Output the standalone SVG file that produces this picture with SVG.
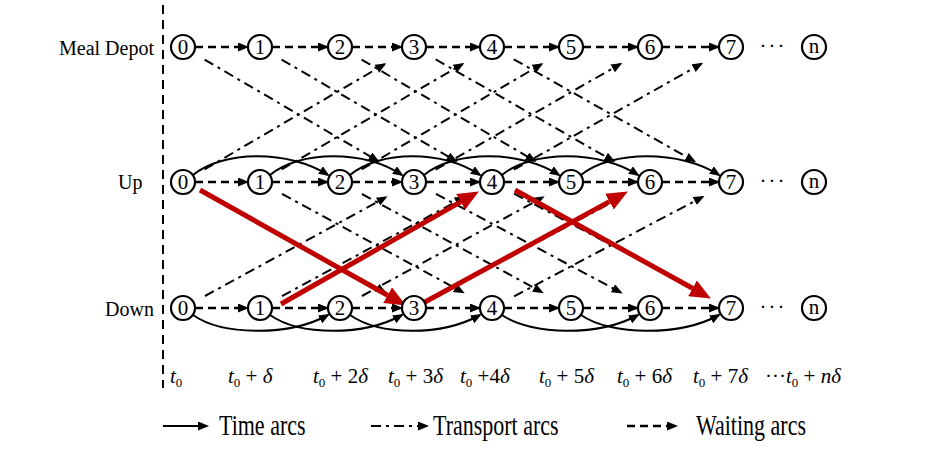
<svg xmlns="http://www.w3.org/2000/svg" width="940" height="458" viewBox="0 0 940 458">
<style>
.bg{fill:#fff}
.nd circle{fill:#fff;stroke:#000;stroke-width:2.2}
.nd text{font-family:"Liberation Serif","Times New Roman",serif;font-size:21px;text-anchor:middle;fill:#000}
.lbl{font-family:"Liberation Serif","Times New Roman",serif;font-size:20px;fill:#000}
.tl{font-family:"Liberation Serif","Times New Roman",serif;font-size:21px;fill:#000}
.dots{font-family:"Liberation Serif","Times New Roman",serif;font-size:21px;fill:#000;letter-spacing:2px}
.it{font-style:italic}
.sub{font-size:13px}
.lg{font-family:"Liberation Serif","Times New Roman",serif;font-size:22px;fill:#000}
.wait{stroke:#000;stroke-width:2.4;stroke-dasharray:8 5;fill:none;marker-end:url(#ah)}
.trans{stroke:#000;stroke-width:2;stroke-dasharray:10 5 3 5;fill:none;marker-end:url(#ah)}
.time{stroke:#000;stroke-width:2;fill:none;marker-end:url(#ah)}
.red{stroke:#C00000;stroke-width:5;fill:none;marker-end:url(#rah)}
.axis{stroke:#000;stroke-width:2;stroke-dasharray:9 6;fill:none}
</style>
<defs>
<marker id="ah" markerUnits="userSpaceOnUse" markerWidth="12" markerHeight="10" refX="9" refY="4.5" orient="auto"><path d="M0,0 L11,4.5 L0,9 z" fill="#000"/></marker>
<marker id="rah" markerUnits="userSpaceOnUse" markerWidth="21" markerHeight="18" refX="0" refY="9" orient="auto"><path d="M0,0 L21,9 L0,18 z" fill="#C00000"/></marker>
</defs>
<rect class="bg" x="0" y="0" width="940" height="458"/>
<path class="axis" d="M163,5 V388"/>
<text class="lbl" x="59" y="55">Meal Depot</text>
<text class="lbl" x="118" y="189">Up</text>
<text class="lbl" x="105" y="316">Down</text>

<g id="connectors">
<!-- transport: depot -> up -->
<path class="trans" d="M204.6,59.6 L377.7,160.8"/>
<path class="trans" d="M281.6,59.6 L455.7,160.9"/>
<path class="trans" d="M361.6,59.6 L534.7,160.8"/>
<path class="trans" d="M435.7,59.4 L613.5,161.1"/>
<path class="trans" d="M513.8,59.3 L694.4,161.3"/>
<!-- transport: up -> depot -->
<path class="trans" d="M204.6,169.4 L384.6,64.2"/>
<path class="trans" d="M281.6,169.4 L462.6,64.1"/>
<path class="trans" d="M361.6,169.4 L541.6,64.2"/>
<path class="trans" d="M435.7,169.6 L620.5,63.9"/>
<path class="trans" d="M513.8,169.7 L701.4,63.7"/>
<!-- transport: up -> down -->
<path class="trans" d="M205,194 L385,292.2"/>
<path class="trans" d="M282,193.9 L463,292.3"/>
<path class="trans" d="M362,194 L542,292.2"/>
<path class="trans" d="M436,193.8 L620.9,292.5"/>
<path class="trans" d="M514.1,193.7 L701.8,292.6"/>
<!-- transport: down -> up -->
<path class="trans" d="M205,296 L385.9,197.3"/>
<path class="trans" d="M282,296.1 L463.9,197.3"/>
<path class="trans" d="M362,296 L542.9,197.3"/>
<path class="trans" d="M436,296.2 L621.8,197.1"/>
<path class="trans" d="M514.1,296.3 L702.7,196.9"/>
<!-- time arcs: up -->
<path class="time" d="M193,175 C223,150 290,150 328,175"/>
<path class="time" d="M270,175 C300,150 364,150 402,175"/>
<path class="time" d="M350,175 C380,150 442,150 480,175"/>
<path class="time" d="M424,175 C454,150 521,150 559,175"/>
<path class="time" d="M502,175 C532,150 600,150 638,175"/>
<path class="time" d="M581,175 C611,150 681,150 719,175"/>
<!-- time arcs: down -->
<path class="time" d="M193,315 C223,336 290,336 328,315"/>
<path class="time" d="M270,315 C300,336 364,336 402,315"/>
<path class="time" d="M350,315 C380,336 442,336 480,315"/>
<path class="time" d="M502,315 C532,336 600,336 638,315"/>
<path class="time" d="M581,315 C611,336 681,336 719,315"/>
<!-- waiting arcs -->
<path class="wait" d="M195,47 H247"/><path class="wait" d="M272,47 H327"/><path class="wait" d="M352,47 H401"/><path class="wait" d="M426,47 H479"/><path class="wait" d="M504,47 H558"/><path class="wait" d="M583,47 H637"/><path class="wait" d="M662,47 H718"/>
<path class="wait" d="M195,182 H247"/><path class="wait" d="M272,182 H327"/><path class="wait" d="M352,182 H401"/><path class="wait" d="M426,182 H479"/><path class="wait" d="M504,182 H558"/><path class="wait" d="M583,182 H637"/><path class="wait" d="M662,182 H718"/>
<path class="wait" d="M195,308 H247"/><path class="wait" d="M272,308 H327"/><path class="wait" d="M352,308 H401"/><path class="wait" d="M426,308 H479"/><path class="wait" d="M504,308 H558"/><path class="wait" d="M583,308 H637"/><path class="wait" d="M662,308 H718"/>
<!-- red highlighted route -->
<path class="red" d="M200,190 L387.6,295.2"/>
<path class="red" d="M281,304 L460.6,201.9"/>
<path class="red" d="M425,302 L609.4,201.6"/>
<path class="red" d="M515,190 L692.5,288.3"/>
</g>

<g id="depot-0" class="nd"><circle cx="183" cy="47" r="12"/><text x="183" y="54">0</text></g>
<g id="depot-1" class="nd"><circle cx="260" cy="47" r="12"/><text x="260" y="54">1</text></g>
<g id="depot-2" class="nd"><circle cx="340" cy="47" r="12"/><text x="340" y="54">2</text></g>
<g id="depot-3" class="nd"><circle cx="414" cy="47" r="12"/><text x="414" y="54">3</text></g>
<g id="depot-4" class="nd"><circle cx="492" cy="47" r="12"/><text x="492" y="54">4</text></g>
<g id="depot-5" class="nd"><circle cx="571" cy="47" r="12"/><text x="571" y="54">5</text></g>
<g id="depot-6" class="nd"><circle cx="650" cy="47" r="12"/><text x="650" y="54">6</text></g>
<g id="depot-7" class="nd"><circle cx="731" cy="47" r="12"/><text x="731" y="54">7</text></g>
<g id="depot-n" class="nd"><circle cx="814" cy="47" r="12"/><text x="814" y="53">n</text></g>

<g id="up-0" class="nd"><circle cx="183" cy="182" r="12"/><text x="183" y="189">0</text></g>
<g id="up-1" class="nd"><circle cx="260" cy="182" r="12"/><text x="260" y="189">1</text></g>
<g id="up-2" class="nd"><circle cx="340" cy="182" r="12"/><text x="340" y="189">2</text></g>
<g id="up-3" class="nd"><circle cx="414" cy="182" r="12"/><text x="414" y="189">3</text></g>
<g id="up-4" class="nd"><circle cx="492" cy="182" r="12"/><text x="492" y="189">4</text></g>
<g id="up-5" class="nd"><circle cx="571" cy="182" r="12"/><text x="571" y="189">5</text></g>
<g id="up-6" class="nd"><circle cx="650" cy="182" r="12"/><text x="650" y="189">6</text></g>
<g id="up-7" class="nd"><circle cx="731" cy="182" r="12"/><text x="731" y="189">7</text></g>
<g id="up-n" class="nd"><circle cx="814" cy="182" r="12"/><text x="814" y="188">n</text></g>

<g id="down-0" class="nd"><circle cx="183" cy="308" r="12"/><text x="183" y="315">0</text></g>
<g id="down-1" class="nd"><circle cx="260" cy="308" r="12"/><text x="260" y="315">1</text></g>
<g id="down-2" class="nd"><circle cx="340" cy="308" r="12"/><text x="340" y="315">2</text></g>
<g id="down-3" class="nd"><circle cx="414" cy="308" r="12"/><text x="414" y="315">3</text></g>
<g id="down-4" class="nd"><circle cx="492" cy="308" r="12"/><text x="492" y="315">4</text></g>
<g id="down-5" class="nd"><circle cx="571" cy="308" r="12"/><text x="571" y="315">5</text></g>
<g id="down-6" class="nd"><circle cx="650" cy="308" r="12"/><text x="650" y="315">6</text></g>
<g id="down-7" class="nd"><circle cx="731" cy="308" r="12"/><text x="731" y="315">7</text></g>
<g id="down-n" class="nd"><circle cx="814" cy="308" r="12"/><text x="814" y="314">n</text></g>

<text class="dots" x="773" y="53" text-anchor="middle">···</text>
<text class="dots" x="773" y="188" text-anchor="middle">···</text>
<text class="dots" x="773" y="314" text-anchor="middle">···</text>

<g id="time-labels">
<text class="tl" x="170" y="383"><tspan class="it">t</tspan><tspan class="sub" dy="4">0</tspan></text>
<text class="tl" x="228" y="383"><tspan class="it">t</tspan><tspan class="sub" dy="4">0</tspan><tspan dy="-4"> + </tspan><tspan class="it">δ</tspan></text>
<text class="tl" x="313" y="383"><tspan class="it">t</tspan><tspan class="sub" dy="4">0</tspan><tspan dy="-4"> + 2</tspan><tspan class="it">δ</tspan></text>
<text class="tl" x="388" y="383"><tspan class="it">t</tspan><tspan class="sub" dy="4">0</tspan><tspan dy="-4"> + 3</tspan><tspan class="it">δ</tspan></text>
<text class="tl" x="460" y="383"><tspan class="it">t</tspan><tspan class="sub" dy="4">0</tspan><tspan dy="-4"> +4</tspan><tspan class="it">δ</tspan></text>
<text class="tl" x="539" y="383"><tspan class="it">t</tspan><tspan class="sub" dy="4">0</tspan><tspan dy="-4"> + 5</tspan><tspan class="it">δ</tspan></text>
<text class="tl" x="617" y="383"><tspan class="it">t</tspan><tspan class="sub" dy="4">0</tspan><tspan dy="-4"> + 6</tspan><tspan class="it">δ</tspan></text>
<text class="tl" x="693" y="383"><tspan class="it">t</tspan><tspan class="sub" dy="4">0</tspan><tspan dy="-4"> + 7</tspan><tspan class="it">δ</tspan></text>
<text class="tl" x="765" y="383">···<tspan class="it">t</tspan><tspan class="sub" dy="4">0</tspan><tspan dy="-4"> + </tspan><tspan class="it">nδ</tspan></text>
</g>

<g id="legend">
<path class="time" d="M163,426 H207"/>
<text class="lg" transform="translate(219,435) scale(1,1.3)">Time arcs</text>
<path class="trans" d="M371,426 H427"/>
<text class="lg" transform="translate(433,435) scale(1,1.3)">Transport arcs</text>
<path class="wait" d="M627,426 H676"/>
<text class="lg" transform="translate(696,435) scale(1,1.3)">Waiting arcs</text>
</g>
</svg>
